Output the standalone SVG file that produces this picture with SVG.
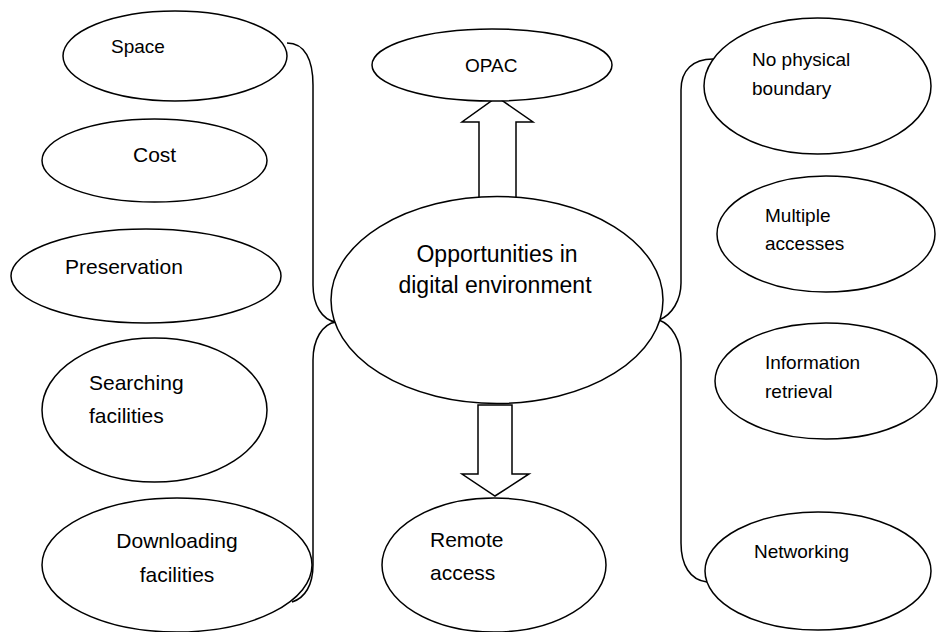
<svg xmlns="http://www.w3.org/2000/svg" width="938" height="632" viewBox="0 0 938 632">
<style>
  .shape { fill: #ffffff; stroke: #000000; stroke-width: 1.5; }
  .conn { fill: none; stroke: #000000; stroke-width: 1.5; }
  text { font-family: "Liberation Sans", Arial, sans-serif; fill: #000000; }
  .s { font-size: 19px; }
  .m { font-size: 21px; }
  .l { font-size: 23px; }
</style>
<rect width="938" height="632" fill="#ffffff"/>
<g id="connectors">
  <path class="conn" d="M287,43 C305,43 313,60 313,85 L313,285 C313,305 322,320 336,322 C322,324 313,340 313,360 L313,565 C313,585 305,598 292,602"/>
  <path class="conn" d="M713,59 C693,59 681,70 681,90 L681,283 C681,300 672,315 659,320 C672,325 681,340 681,360 L681,543 C681,565 690,580 707,582"/>
  <path class="shape" d="M479,198 L479,122 L462,122 L497,97 L533,122 L516,122 L516,198 Z"/>
  <path class="shape" d="M478,405 L478,474 L462,474 L495,496 L529,474 L512,474 L512,405 Z"/>
</g>
<g id="space">
  <ellipse class="shape" cx="175" cy="56" rx="112" ry="45"/>
  <text class="s" x="111" y="53">Space</text>
</g>
<g id="cost">
  <ellipse class="shape" cx="154.5" cy="160.5" rx="112.5" ry="41.5"/>
  <text class="m" x="133" y="162">Cost</text>
</g>
<g id="preservation">
  <ellipse class="shape" cx="146" cy="276" rx="135" ry="47"/>
  <text class="m" x="65" y="274">Preservation</text>
</g>
<g id="searching">
  <ellipse class="shape" cx="154.5" cy="410" rx="112.5" ry="72"/>
  <text class="m" x="89" y="390">Searching</text>
  <text class="m" x="89" y="423">facilities</text>
</g>
<g id="downloading">
  <ellipse class="shape" cx="177" cy="565" rx="135" ry="67"/>
  <text class="m" x="177" y="548" text-anchor="middle" font-size="22">Downloading</text>
  <text class="m" x="177" y="582" text-anchor="middle" font-size="22">facilities</text>
</g>
<g id="opac">
  <ellipse class="shape" cx="492" cy="65" rx="120" ry="36"/>
  <text class="s" x="465" y="72">OPAC</text>
</g>
<g id="center">
  <ellipse class="shape" cx="497" cy="300" rx="166" ry="103.5"/>
  <text class="l" x="497" y="262" text-anchor="middle">Opportunities in</text>
  <text class="l" x="495" y="293" text-anchor="middle">digital environment</text>
</g>
<g id="remote">
  <ellipse class="shape" cx="494" cy="565" rx="112" ry="67"/>
  <text class="m" x="430" y="547">Remote</text>
  <text class="m" x="430" y="580">access</text>
</g>
<g id="nophysical">
  <ellipse class="shape" cx="817.5" cy="86" rx="113.5" ry="68"/>
  <text class="s" x="752" y="66">No physical</text>
  <text class="s" x="752" y="95">boundary</text>
</g>
<g id="multiple">
  <ellipse class="shape" cx="826" cy="234" rx="109" ry="58"/>
  <text class="s" x="765" y="222">Multiple</text>
  <text class="s" x="765" y="250">accesses</text>
</g>
<g id="information">
  <ellipse class="shape" cx="826" cy="381" rx="111" ry="58"/>
  <text class="s" x="765" y="369">Information</text>
  <text class="s" x="765" y="398">retrieval</text>
</g>
<g id="networking">
  <ellipse class="shape" cx="818" cy="571" rx="113" ry="59"/>
  <text class="s" x="754" y="558">Networking</text>
</g>
</svg>
